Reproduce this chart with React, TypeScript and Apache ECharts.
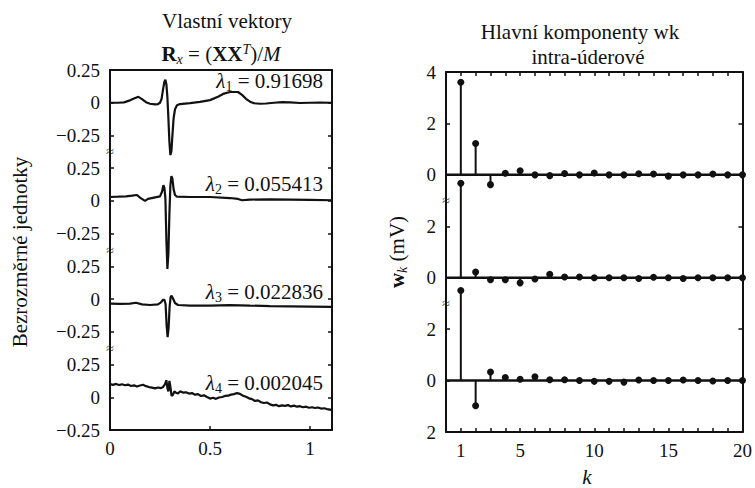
import React, { useEffect, useRef } from "react";
import * as echarts from "echarts";

const FONT = "Liberation Serif";
const INK = "#111";

// ---------- Left panel: eigenvectors ----------
const eigenvalues = ["0.91698", "0.055413", "0.022836", "0.002045"];
const eigOffsets = [2.25, 1.5, 0.75, 0];

const eig1: [number, number][] = [
  [0, 0], [0.04, 0], [0.07, 0.003], [0.1, 0.018], [0.12, 0.032], [0.142, 0.045], [0.16, 0.028],
  [0.18, 0.004], [0.2, -0.008], [0.225, -0.012], [0.24, -0.01], [0.25, 0.0], [0.258, 0.03],
  [0.265, 0.1], [0.272, 0.16], [0.277, 0.175], [0.282, 0.14], [0.287, 0.04], [0.292, -0.12],
  [0.297, -0.3], [0.302, -0.4], [0.307, -0.37], [0.312, -0.25], [0.318, -0.12], [0.325, -0.05],
  [0.335, -0.02], [0.35, -0.01], [0.4, -0.003], [0.45, 0.006], [0.5, 0.02], [0.54, 0.045],
  [0.57, 0.07], [0.6, 0.082], [0.64, 0.082], [0.66, 0.06], [0.68, 0.03], [0.7, 0.008],
  [0.72, -0.004], [0.75, -0.008], [0.78, -0.006], [0.82, 0.0], [0.86, 0.004], [0.9, 0.002],
  [0.95, -0.002], [1.0, 0.0], [1.05, 0.001], [1.11, 0],
];

const eig2: [number, number][] = [
  [0, 0.03], [0.04, 0.032], [0.08, 0.035], [0.11, 0.04], [0.135, 0.045], [0.15, 0.025],
  [0.175, 0.0], [0.19, 0.015], [0.22, 0.025], [0.25, 0.035], [0.26, 0.07], [0.267, 0.12],
  [0.272, 0.1], [0.277, 0.02], [0.282, -0.3], [0.287, -0.52], [0.292, -0.4], [0.297, -0.1],
  [0.302, 0.12], [0.307, 0.19], [0.312, 0.17], [0.318, 0.09], [0.325, 0.045], [0.335, 0.032],
  [0.4, 0.03], [0.5, 0.03], [0.6, 0.022], [0.64, 0.015], [0.66, 0.005], [0.7, 0.01],
  [0.8, 0.012], [0.9, 0.01], [1.0, 0.008], [1.11, 0.005],
];

const eig3: [number, number][] = [
  [0, -0.035], [0.05, -0.037], [0.1, -0.035], [0.13, -0.028], [0.16, -0.04], [0.2, -0.045],
  [0.24, -0.04], [0.255, -0.025], [0.265, -0.005], [0.272, -0.005], [0.278, -0.04],
  [0.283, -0.2], [0.288, -0.29], [0.293, -0.22], [0.298, -0.06], [0.303, 0.015], [0.308, 0.026],
  [0.315, 0.005], [0.325, -0.03], [0.34, -0.045], [0.4, -0.05], [0.5, -0.05], [0.6, -0.046],
  [0.7, -0.05], [0.8, -0.053], [0.9, -0.055], [1.0, -0.057], [1.11, -0.06],
];

const eig4: [number, number][] = [
  [0, 0.1], [0.015, 0.095], [0.03, 0.102], [0.045, 0.094], [0.06, 0.099], [0.075, 0.092],
  [0.09, 0.097], [0.105, 0.086], [0.12, 0.091], [0.135, 0.082], [0.15, 0.09], [0.165, 0.096],
  [0.18, 0.085], [0.195, 0.078], [0.21, 0.074], [0.225, 0.068], [0.24, 0.075], [0.255, 0.07],
  [0.265, 0.078], [0.275, 0.1], [0.282, 0.13], [0.287, 0.07], [0.292, 0.045], [0.297, 0.125],
  [0.302, 0.08], [0.308, 0.01], [0.315, 0.02], [0.322, 0.045], [0.33, 0.035], [0.34, 0.028],
  [0.35, 0.045], [0.365, 0.036], [0.38, 0.038], [0.395, 0.028], [0.41, 0.032], [0.425, 0.02],
  [0.44, 0.024], [0.455, 0.01], [0.47, 0.015], [0.485, 0.002], [0.5, -0.01], [0.515, -0.004],
  [0.53, -0.012], [0.545, -0.002], [0.56, 0.002], [0.575, 0.01], [0.59, 0.012], [0.605, 0.02],
  [0.62, 0.024], [0.635, 0.032], [0.65, 0.026], [0.665, 0.012], [0.68, 0.004], [0.695, -0.008],
  [0.71, -0.014], [0.725, -0.028], [0.74, -0.024], [0.755, -0.038], [0.77, -0.044],
  [0.785, -0.04], [0.8, -0.054], [0.815, -0.062], [0.83, -0.058], [0.845, -0.068],
  [0.86, -0.062], [0.875, -0.066], [0.89, -0.06], [0.905, -0.07], [0.92, -0.064],
  [0.935, -0.072], [0.95, -0.068], [0.965, -0.076], [0.98, -0.072], [0.995, -0.08],
  [1.01, -0.076], [1.025, -0.082], [1.04, -0.078], [1.055, -0.086], [1.07, -0.084],
  [1.085, -0.09], [1.1, -0.094], [1.11, -0.1],
];

const eigTraces = [eig1, eig2, eig3, eig4];
const leftTickLabels = ["−0.25", "0", "0.25", "−0.25", "0", "0.25", "−0.25", "0", "0.25", "−0.25", "0", "0.25"];
const leftXTickLabels = ["0", "0.5", "1"];
const leftBreaks = [0.375, 1.125, 1.875];

// ---------- Right panel: principal components ----------
const kValues = [1, 2, 3, 4, 5, 6, 7, 8, 9, 10, 11, 12, 13, 14, 15, 16, 17, 18, 19, 20];
const pc1 = [3.6, 1.22, -0.38, 0.06, 0.16, 0.0, -0.03, 0.05, 0.0, 0.07, 0.0, 0.0, 0.04, 0.03, -0.05, 0.0, 0.0, 0.03, 0.0, 0.0];
const pc2 = [3.67, 0.22, -0.08, -0.08, -0.2, -0.05, 0.13, 0.03, 0.03, 0.0, 0.0, 0.0, -0.03, 0.02, 0.0, -0.03, 0.0, 0.0, 0.0, 0.0];
const pc3 = [3.5, -0.98, 0.33, 0.12, 0.05, 0.15, 0.03, 0.03, 0.0, -0.03, -0.03, -0.06, 0.02, 0.0, 0.0, 0.02, 0.0, -0.02, 0.0, 0.0];
const pcSeries = [pc1, pc2, pc3];
const pcOffsets = [8, 4, 0];
const rightTickLabels = ["2", "0", "2", "0", "2", "0", "2", "4"];
const rightXTickLabels: Record<number, string> = { 1: "1", 5: "5", 10: "10", 15: "15", 20: "20" };
const rightBreaks = [3, 7];

export default function App() {
  const ref = useRef<HTMLDivElement>(null);

  useEffect(() => {
    if (!ref.current) return;
    const chart = echarts.init(ref.current, undefined, { renderer: "svg" });

    const axisLine = { show: true, onZero: false, lineStyle: { color: INK, width: 2 } };
    const tickStyle = { color: INK, width: 1.5 };
    const labelBase = { color: INK, fontFamily: FONT, fontSize: 19 };

    const series: any[] = [];
    eigTraces.forEach((tr, i) => {
      series.push({
        type: "line",
        xAxisIndex: 0,
        yAxisIndex: 0,
        data: tr.map(([x, y]) => [x, y + eigOffsets[i]]),
        symbol: "none",
        lineStyle: { color: INK, width: 2.2 },
        silent: true,
      });
    });
    const breakLabel = { show: true, position: "inside", formatter: "≈", fontSize: 14, color: INK, fontFamily: FONT };
    series.push({
      type: "scatter",
      xAxisIndex: 0,
      yAxisIndex: 0,
      data: leftBreaks.map((v) => [0, v]),
      symbolSize: 1,
      itemStyle: { color: "rgba(0,0,0,0)" },
      clip: false,
      label: breakLabel,
      silent: true,
    });

    pcOffsets.forEach((off) => {
      series.push({
        type: "line",
        xAxisIndex: 2,
        yAxisIndex: 2,
        data: [[0, off], [20, off]],
        symbol: "none",
        lineStyle: { color: INK, width: 2.5 },
        silent: true,
      });
    });
    const stemData: number[][] = [];
    pcSeries.forEach((vals, i) => {
      vals.forEach((v, j) => stemData.push([kValues[j], v, pcOffsets[i]]));
    });
    series.push({
      type: "custom",
      xAxisIndex: 2,
      yAxisIndex: 2,
      data: stemData,
      encode: { x: 0, y: 1 },
      clip: false,
      silent: true,
      renderItem: (_p: any, api: any) => {
        const k = api.value(0);
        const v = api.value(1);
        const off = api.value(2);
        const p0 = api.coord([k, off]);
        const p1 = api.coord([k, off + v]);
        return {
          type: "group",
          children: [
            { type: "line", shape: { x1: p0[0], y1: p0[1], x2: p1[0], y2: p1[1] }, style: { stroke: INK, lineWidth: 2 } },
            { type: "circle", shape: { cx: p1[0], cy: p1[1], r: 3.5 }, style: { fill: INK } },
          ],
        };
      },
    });
    series.push({
      type: "scatter",
      xAxisIndex: 2,
      yAxisIndex: 2,
      data: rightBreaks.map((v) => [0, v]),
      symbolSize: 1,
      itemStyle: { color: "rgba(0,0,0,0)" },
      clip: false,
      label: breakLabel,
      silent: true,
    });

    const txt = (x: number, y: number, text: string, extra: any = {}, rot = 0) => ({
      type: "text",
      x,
      y,
      rotation: rot,
      silent: true,
      style: {
        text,
        fill: INK,
        fontFamily: FONT,
        fontSize: 21,
        textAlign: "center",
        align: "center",
        textVerticalAlign: "middle",
        verticalAlign: "middle",
        ...extra,
      },
    });

    const subRich = {
      l: { fontFamily: FONT, fontSize: 21, fontStyle: "italic", color: INK },
      s: { fontFamily: FONT, fontSize: 14, color: INK, padding: [11, 0, 0, 0] },
      n: { fontFamily: FONT, fontSize: 21, color: INK },
    };

    const lambdaY = [81, 184, 292, 383];
    const graphic: any[] = [
      txt(227, 21, "Vlastní vektory"),
      txt(221, 54, "{b|R}{si|x}{n| = (}{b|XX}{sup|T}{n|)/}{i|M}", {
        rich: {
          b: { fontFamily: FONT, fontSize: 21, fontWeight: "bold", color: INK },
          si: { fontFamily: FONT, fontSize: 14, fontStyle: "italic", color: INK, padding: [10, 0, 0, 0] },
          n: { fontFamily: FONT, fontSize: 21, color: INK },
          sup: { fontFamily: FONT, fontSize: 14, fontStyle: "italic", color: INK, padding: [0, 0, 10, 0] },
          i: { fontFamily: FONT, fontSize: 21, fontStyle: "italic", color: INK },
        },
      }),
      txt(20, 252, "Bezrozměrné jednotky", {}, Math.PI / 2),
      txt(580, 32, "Hlavní komponenty wk"),
      txt(588, 57, "intra-úderové"),
      txt(397, 252, "{w|w}{s|k}{n| (mV)}", {
        rich: {
          w: { fontFamily: FONT, fontSize: 21, fontWeight: "bold", color: INK },
          s: { fontFamily: FONT, fontSize: 14, fontStyle: "italic", color: INK, padding: [10, 0, 0, 0] },
          n: { fontFamily: FONT, fontSize: 21, color: INK },
        },
      }, Math.PI / 2),
      txt(587, 477, "k", { fontStyle: "italic" }),
    ];
    eigenvalues.forEach((ev, i) => {
      graphic.push(
        txt(323, lambdaY[i], `{l|λ}{s|${i + 1}}{n| = ${ev}}`, {
          textAlign: "right",
          align: "right",
          rich: subRich,
        })
      );
    });

    const option: any = {
      animation: false,
      backgroundColor: "#fff",
      grid: [
        { left: 110, top: 70, width: 222, height: 360 },
        { left: 446, top: 72, width: 297, height: 360 },
      ],
      xAxis: [
        {
          gridIndex: 0, type: "value", position: "bottom", min: 0, max: 1.11, interval: 0.5,
          axisLine, splitLine: { show: false },
          axisTick: { show: true, inside: true, length: 4, lineStyle: tickStyle },
          axisLabel: {
            ...labelBase, margin: 9, showMaxLabel: false,
            formatter: (v: number) => {
              const idx = Math.round(v / 0.5);
              return Math.abs(v - idx * 0.5) < 1e-9 && leftXTickLabels[idx] !== undefined ? leftXTickLabels[idx] : "";
            },
          },
        },
        {
          gridIndex: 0, type: "value", position: "top", min: 0, max: 1.11, interval: 0.5,
          axisLine, splitLine: { show: false }, axisTick: { show: false }, axisLabel: { show: false },
        },
        {
          gridIndex: 1, type: "value", position: "bottom", min: 0, max: 20, interval: 1,
          axisLine, splitLine: { show: false },
          axisTick: { show: true, inside: true, length: 4, lineStyle: tickStyle },
          axisLabel: {
            ...labelBase, margin: 9,
            formatter: (v: number) => rightXTickLabels[Math.round(v)] ?? "",
          },
        },
        {
          gridIndex: 1, type: "value", position: "top", min: 0, max: 20, interval: 1,
          axisLine, splitLine: { show: false },
          axisTick: { show: true, inside: true, length: 4, lineStyle: tickStyle },
          axisLabel: { show: false },
        },
      ],
      yAxis: [
        {
          gridIndex: 0, type: "value", position: "left", min: -0.25, max: 2.5, interval: 0.25,
          axisLine, splitLine: { show: false },
          axisTick: { show: true, inside: true, length: 4, lineStyle: tickStyle },
          axisLabel: {
            ...labelBase, margin: 10,
            formatter: (v: number) => leftTickLabels[Math.round((v + 0.25) / 0.25)] ?? "",
          },
        },
        {
          gridIndex: 0, type: "value", position: "right", min: -0.25, max: 2.5, interval: 0.25,
          axisLine, splitLine: { show: false },
          axisTick: { show: true, inside: true, length: 4, lineStyle: tickStyle },
          axisLabel: { show: false },
        },
        {
          gridIndex: 1, type: "value", position: "left", min: -2, max: 12, interval: 2,
          axisLine, splitLine: { show: false },
          axisTick: { show: true, inside: true, length: 4, lineStyle: tickStyle },
          axisLabel: {
            ...labelBase, margin: 10,
            formatter: (v: number) => rightTickLabels[Math.round((v + 2) / 2)] ?? "",
          },
        },
        {
          gridIndex: 1, type: "value", position: "right", min: -2, max: 12, interval: 2,
          axisLine, splitLine: { show: false },
          axisTick: { show: true, inside: true, length: 4, lineStyle: tickStyle },
          axisLabel: { show: false },
        },
      ],
      series,
      graphic,
    };
    chart.setOption(option);
    return () => chart.dispose();
  }, []);

  return (
    <div
      ref={ref}
      style={{ position: "absolute", left: 0, top: 0, width: 755, height: 488, background: "#fff" }}
    />
  );
}
